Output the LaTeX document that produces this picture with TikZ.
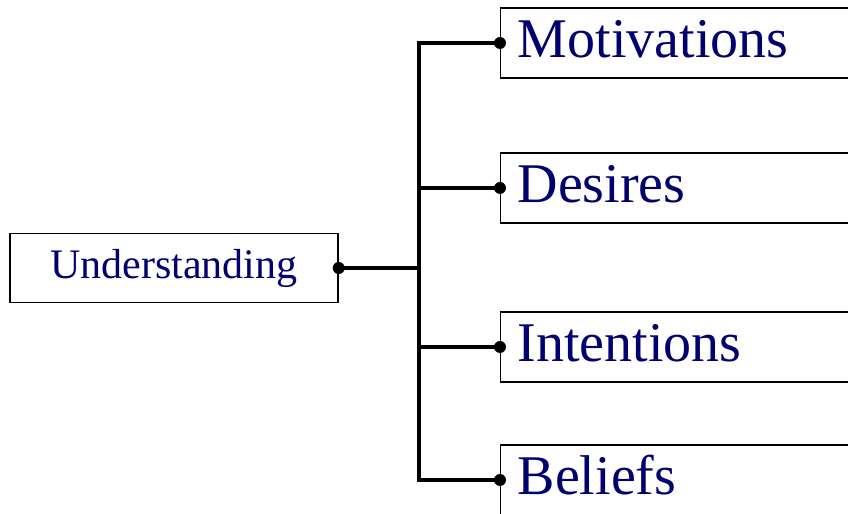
\documentclass[tikz,border=0pt]{standalone}
\usepackage{fontspec}
\setmainfont{Liberation Serif}
\usetikzlibrary{positioning}
\definecolor{inkblue}{RGB}{0,0,110}

\begin{document}
\begin{tikzpicture}[x=1pt,y=1pt]
			\tikzstyle{root} = [rectangle, draw, line width=0.7pt, minimum width=164pt, minimum height=34.5pt, text=inkblue, font=\fontsize{21}{23}\selectfont]
			\tikzstyle{leaf} = [rectangle, draw, line width=0.7pt, anchor=west, minimum height=35pt, text width=183pt, text height=20pt, text depth=5pt, inner xsep=8.5pt, align=left, text=inkblue, font=\fontsize{28}{30}\selectfont]
			\tikzstyle{link} = [draw, line width=1.6pt]
			\useasboundingbox (0,0) rectangle (424,257);
			\clip (0,0) rectangle (424,257);
			\node [root] (understanding) at (87,123) {Understanding};
			\node [leaf] (motivations) at (250,235.5) {Motivations};
			\node [leaf] (desires) at (250,163) {Desires};
			\node [leaf] (intentions) at (250,83.5) {Intentions};
			\node [leaf] (beliefs) at (250,17) {Beliefs};
			\coordinate (hub) at (209.5,123);

			\path[link] (understanding.east) -- (hub);
			\foreach \leaf in {motivations,desires,intentions,beliefs}
				\path[link] (hub) |- (\leaf.west);
			\foreach \n in {understanding.east,motivations.west,desires.west,intentions.west,beliefs.west}
				\fill (\n) circle (3pt);
		\end{tikzpicture}
\end{document}
